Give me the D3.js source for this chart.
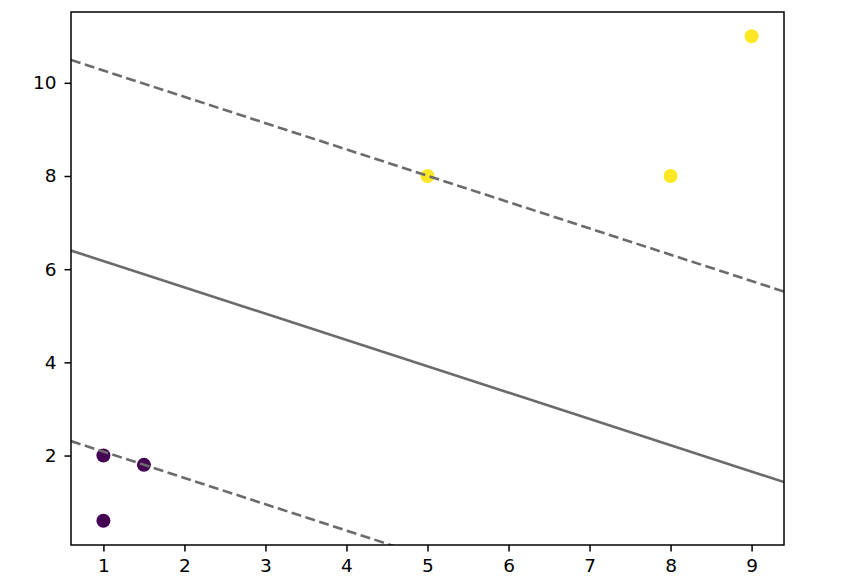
<!DOCTYPE html>
<html>
<head>
<meta charset="utf-8">
<script src="https://cdn.jsdelivr.net/npm/d3@7"></script>
<style>
  body { margin: 0; background: #fff; }
  svg { display: block; }
</style>
</head>
<body>
<svg id="chart" width="852" height="588"></svg>
<script>
// points
var pointsX = [1, 5, 1.5, 8, 1, 9];
var pointsY = [2, 8, 1.8, 8, 0.6, 11];
var pointsClass = [0, 1, 0, 1, 0, 1];
var classColors = ["#440154", "#fde725"];

// separating line and margins, y values at the left and right axis limits
var lineX = [0.6, 9.4];
var decisionY = [6.40, 1.43];
var upperY = [10.49, 5.52];
var lowerY = [2.31, -2.66];

var xTicks = [1, 2, 3, 4, 5, 6, 7, 8, 9];
var yTicks = [2, 4, 6, 8, 10];

var margin = {top: 12, right: 68, bottom: 43, left: 71};
var width = 852 - margin.left - margin.right;
var height = 588 - margin.top - margin.bottom;

var svg = d3.select("#chart");
var chart = svg.append("g").attr("transform", "translate(" + margin.left + "," + margin.top + ")");

var x = d3.scaleLinear().domain([0.6, 9.4]).range([0, width]);
var y = d3.scaleLinear().domain([0.08, 11.52]).range([height, 0]);

chart.append("clipPath").attr("id", "clip")
  .append("rect").attr("width", width).attr("height", height);

var plot = chart.append("g").attr("clip-path", "url(#clip)");

// points
plot.selectAll("circle")
  .data(pointsX.map(function(d, i) { return [d, pointsY[i], pointsClass[i]]; }))
  .enter().append("circle")
  .attr("cx", function(d) { return x(d[0]); })
  .attr("cy", function(d) { return y(d[1]); })
  .attr("r", 7)
  .attr("fill", function(d) { return classColors[d[2]]; });

var line = d3.line().x(function(d) { return x(d[0]); }).y(function(d) { return y(d[1]); });

[[decisionY, null], [upperY, "10,4.5"], [lowerY, "10,4.5"]].forEach(function(l) {
  plot.append("path")
    .datum(lineX.map(function(d, i) { return [d, l[0][i]]; }))
    .attr("d", line)
    .attr("fill", "none")
    .attr("stroke", "#6b6b6b")
    .attr("stroke-width", 2.6)
    .attr("stroke-dasharray", l[1]);
});

// axes
var xAxis = chart.append("g")
  .attr("transform", "translate(0," + height + ")")
  .call(d3.axisBottom(x).tickValues(xTicks).tickFormat(d3.format("d")).tickSize(6.5).tickPadding(6));
var yAxis = chart.append("g")
  .call(d3.axisLeft(y).tickValues(yTicks).tickFormat(d3.format("d")).tickSize(6.5).tickPadding(8));

[xAxis, yAxis].forEach(function(a) {
  a.attr("font-size", 18.5).attr("font-family", "DejaVu Sans");
  a.select(".domain").remove();
  a.selectAll(".tick line").attr("stroke", "#000").attr("stroke-width", 1.5);
  a.selectAll(".tick text").attr("fill", "#000");
});
xAxis.selectAll(".tick text").attr("dy", "0.8em");

chart.append("rect")
  .attr("width", width).attr("height", height)
  .attr("fill", "none").attr("stroke", "#000").attr("stroke-width", 1.5);
</script>
</body>
</html>
